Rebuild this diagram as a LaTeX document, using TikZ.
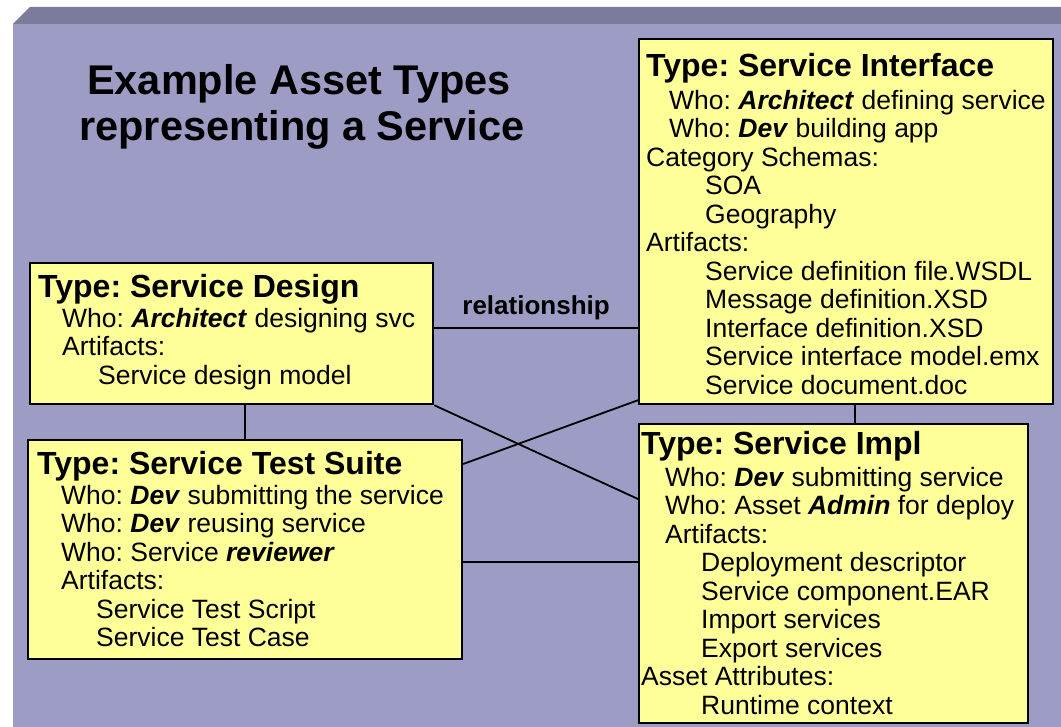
\documentclass[tikz,border=0pt]{standalone}
\usepackage{fontspec}
\setmainfont{Liberation Sans}
\usetikzlibrary{calc}
\frenchspacing
\definecolor{panel}{HTML}{9D9CC4}
\definecolor{band}{HTML}{7B7B9B}
\definecolor{boxfill}{HTML}{FFFF99}
\tikzset{
  typebox/.style={draw=black, line width=2.2pt, fill=boxfill, anchor=north west, inner sep=0pt},
  conn/.style={draw=black, line width=1.8pt},
  head/.style={anchor=base west, inner sep=0pt, font=\fontsize{32}{34}\selectfont\bfseries},
  body/.style={anchor=north west, inner sep=0pt, align=left, font=\fontsize{26.5}{28.5}\selectfont},
  ttl/.style={anchor=base, inner sep=0pt, font=\fontsize{41.5}{46}\selectfont\bfseries}
}
\newcommand{\bi}[1]{\textbf{\textit{#1}}}
\begin{document}
\begin{tikzpicture}[x=1pt,y=1pt]
\useasboundingbox (0,0) rectangle (1061,-727);
\fill[white] (0,0) rectangle (1061,-727);
\fill[band] (30,-7) -- (1061,-7) -- (1061,-24) -- (13,-24) -- cycle;
\fill[panel] (13,-24) rectangle (1061,-727);

% title
\node[ttl] (t1) at (299,-95) {Example Asset Types};
\node[ttl] (t2) at (302,-141) {representing a Service};

% boxes
\node[typebox, minimum width=414, minimum height=365] (iface) at (638,-38) {};
\node[typebox, minimum width=389, minimum height=299] (impl) at (638,-423) {};
\node[typebox, minimum width=403, minimum height=141] (design) at (29,-262) {};
\node[typebox, minimum width=434, minimum height=219] (test) at (27,-439) {};

% connectors
\draw[conn] ($(design.north east)+(0,-66)$) -- node[midway, above=7pt, inner sep=0pt, font=\fontsize{26}{28}\selectfont\bfseries] (rel) {relationship} ($(iface.north west)+(0,-290)$);
\draw[conn] (design.south east) -- ($(impl.north west)+(0,-76)$);
\draw[conn] ($(test.north east)+(0,-25)$) -- ($(iface.south west)+(0,5)$);
\draw[conn] ($(design.south west)+(216,0)$) -- ($(test.north west)+(218,0)$);
\draw[conn] ($(test.north east)+(0,-123)$) -- ($(impl.north west)+(0,-139)$);
\draw[conn] ($(iface.south west)+(217,0)$) -- ($(impl.north west)+(217,0)$);

% Service Interface text
\node[head] (ifaceh) at (646,-77) {Type: Service Interface};
\node[body] (ifaceb) at (646,-90) {%
\hspace*{23pt}Who: \bi{Architect} defining service\\
\hspace*{23pt}Who: \bi{Dev} building app\\
Category Schemas:\\
\hspace*{59pt}SOA\\
\hspace*{59pt}Geography\\
Artifacts:\\
\hspace*{59pt}Service definition file.WSDL\\
\hspace*{59pt}Message definition.XSD\\
\hspace*{59pt}Interface definition.XSD\\
\hspace*{59pt}Service interface model.emx\\
\hspace*{59pt}Service document.doc};

% Service Design text
\node[head] (designh) at (38,-298) {Type: Service Design};
\node[body] (designb) at (62,-308) {%
Who: \bi{Architect} designing svc\\
Artifacts:\\
\hspace*{36pt}Service design model};

% Service Test Suite text
\node[head] (testh) at (37,-475) {Type: Service Test Suite};
\node[body] (testb) at (61,-485) {%
Who: \bi{Dev} submitting the service\\
Who: \bi{Dev} reusing service\\
Who: Service \bi{reviewer}\\
Artifacts:\\
\hspace*{35pt}Service Test Script\\
\hspace*{35pt}Service Test Case};

% Service Impl text
\node[head] (implh) at (641,-454) {Type: Service Impl};
\node[body] (implb) at (641,-467) {%
\hspace*{24pt}Who: \bi{Dev} submitting service\\
\hspace*{24pt}Who: Asset \bi{Admin} for deploy\\
\hspace*{24pt}Artifacts:\\
\hspace*{60pt}Deployment descriptor\\
\hspace*{60pt}Service component.EAR\\
\hspace*{60pt}Import services\\
\hspace*{60pt}Export services\\
Asset Attributes:\\
\hspace*{60pt}Runtime context};
\end{tikzpicture}
\end{document}
